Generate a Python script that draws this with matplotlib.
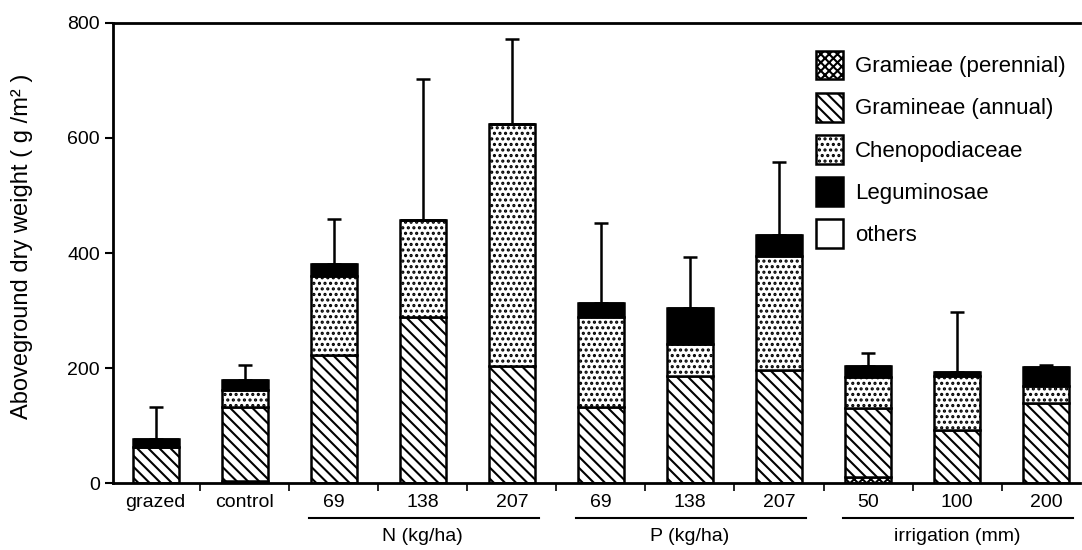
import matplotlib
matplotlib.use("Agg")
import matplotlib.pyplot as plt  # To draw the chart
import matplotlib.transforms as mtransforms  # To mix data and axes coordinates
import numpy as np  # To stack the bars

plt.rcParams['font.family'] = ['Liberation Sans', 'DejaVu Sans']
plt.rcParams['hatch.linewidth'] = 1.5

# Values (g/m2)
categories = ['grazed', 'control', '69', '138', '207', '69', '138', '207', '50', '100', '200']
perennial = [0, 4, 0, 0, 0, 0, 0, 0, 10, 0, 0]  # Gramieae (perennial)
annual = [63, 128, 222, 289, 204, 132, 186, 197, 120, 92, 139]  # Gramineae (annual)
cheno = [0, 30, 138, 168, 420, 156, 56, 198, 55, 94, 30]  # Chenopodiaceae
legum = [13, 17, 21, 0, 0, 25, 62, 36, 18, 7, 33]  # Leguminosae
others = [0, 0, 0, 0, 0, 0, 0, 0, 0, 0, 0]
err_up = [56, 26, 78, 245, 148, 139, 89, 127, 23, 104, 3]  # upper error bars

groups = [('N (kg/ha)', 2, 4), ('P (kg/ha)', 5, 7), ('irrigation (mm)', 8, 10)]
series_names = ['Gramieae (perennial)', 'Gramineae (annual)', 'Chenopodiaceae', 'Leguminosae', 'others']

fig = plt.figure(figsize=(10.82, 5.5), dpi=100)
ax = fig.add_axes([0.1044, 0.1218, 0.8937, 0.8364])

x = np.arange(len(categories))
width = 0.52
bottom = np.zeros(len(categories))
styles = [
    dict(color='white', hatch='xxxx'),
    dict(color='white', hatch='\\\\\\'),
    dict(color='white', hatch='...'),
    dict(color='black', hatch=None),
    dict(color='white', hatch=None),
]
handles = []
for values, name, st in zip([perennial, annual, cheno, legum, others], series_names, styles):
    values = np.array(values, dtype=float)
    bars = ax.bar(x, values, width, bottom=bottom, color=st['color'], hatch=st['hatch'],
                  edgecolor='black', linewidth=1.8, label=name, zorder=2)
    handles.append(bars)
    bottom += values

# Error bars only going up
ax.errorbar(x, bottom, yerr=[np.zeros(len(x)), err_up], fmt='none', ecolor='black',
            elinewidth=1.8, capsize=5, capthick=1.8, zorder=3)

ax.set_xlim(-0.48, 10.38)
ax.set_ylim(0, 800)
ax.set_yticks([0, 200, 400, 600, 800])
ax.set_xticks(x)
ax.set_xticklabels(categories)
ax.set_xticks(x[:-1] + 0.5, minor=True)
ax.tick_params(axis='x', which='major', length=0, pad=8, labelsize=14)
ax.tick_params(axis='x', which='minor', length=6, width=1.2, direction='out')
ax.tick_params(axis='y', length=6, width=1.5, direction='out', labelsize=14)

for side in ['left', 'bottom', 'top']:
    ax.spines[side].set_linewidth(2)
ax.spines['right'].set_visible(False)

ax.set_ylabel('Aboveground dry weight ( g /m² )', fontsize=17)
ax.yaxis.set_label_coords(-0.083, 0.515)

# Group labels with underlines below the ticks
trans = mtransforms.blended_transform_factory(ax.transData, ax.transAxes)
for label, start, end in groups:
    ax.plot([start - 0.28, end + 0.3], [-0.076, -0.076], color='black', linewidth=1.5,
            transform=trans, clip_on=False)
    ax.text((start + end) / 2, -0.117, label, transform=trans, ha='center', va='center', fontsize=14)

ax.legend(handles=handles, loc='upper left', bbox_to_anchor=(0.727, 0.94), frameon=False,
          fontsize=16, handlelength=1.2, handleheight=1.62, labelspacing=0.6,
          handletextpad=0.55, borderpad=0, borderaxespad=0)

fig.savefig('out.png', dpi=100)
